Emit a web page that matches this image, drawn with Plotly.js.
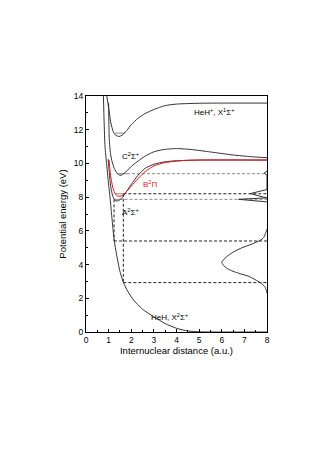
<!DOCTYPE html>
<html>
<head>
<meta charset="utf-8">
<script src="https://cdn.plot.ly/plotly-3.0.1.min.js"></script>
<style>
  html, body { margin: 0; padding: 0; background: #fff; }
  #myPlot { width: 332px; height: 470px; }
</style>
</head>
<body>
<div id="myPlot"></div>
<script>
// HeH ground state X2Sigma+ (repulsive)
const xGround = [0.77, 0.80, 0.84, 0.91, 0.98, 1.06, 1.13, 1.20, 1.25, 1.35, 1.50, 1.65, 1.85, 2.10, 2.50, 3.00, 3.50, 4.00, 4.50, 5.00, 5.50, 8.00];
const yGround = [14.0, 12.5, 11.0, 10.0, 9.0, 8.0, 7.0, 6.0, 5.4, 4.6, 3.6, 2.95, 2.4, 1.9, 1.35, 0.9, 0.5, 0.22, 0.06, 0.01, 0.0, 0.0];

// A2Sigma+
const xA = [0.98, 1.02, 1.06, 1.12, 1.20, 1.28, 1.36, 1.45, 1.60, 1.80, 2.00, 2.30, 2.60, 3.00, 3.50, 4.00, 5.00, 8.00];
const yA = [10.25, 9.6, 9.0, 8.4, 8.0, 7.82, 7.77, 7.80, 7.97, 8.35, 8.75, 9.3, 9.7, 9.95, 10.1, 10.16, 10.2, 10.2];

// B2Pi (red)
const xB = [1.02, 1.06, 1.12, 1.20, 1.30, 1.40, 1.50, 1.60, 1.80, 2.00, 2.30, 2.60, 3.00, 3.50, 4.30, 5.00, 8.00];
const yB = [10.2, 9.6, 9.0, 8.5, 8.18, 8.07, 8.05, 8.10, 8.35, 8.65, 9.1, 9.5, 9.85, 10.05, 10.17, 10.2, 10.2];

// C2Sigma+
const xC = [1.00, 1.01, 1.03, 1.08, 1.14, 1.25, 1.38, 1.50, 1.60, 1.80, 2.00, 2.24, 2.60, 2.98, 3.40, 4.00, 4.70, 5.50, 6.50, 7.30, 8.00];
const yC = [13.58, 12.5, 11.4, 10.6, 10.18, 9.7, 9.4, 9.29, 9.33, 9.55, 9.82, 10.08, 10.42, 10.68, 10.82, 10.88, 10.82, 10.68, 10.5, 10.4, 10.34];

// HeH+ X1Sigma+
const xIon = [0.92, 1.00, 1.10, 1.20, 1.30, 1.46, 1.60, 1.80, 2.00, 2.30, 2.60, 3.00, 3.50, 4.00, 5.00, 6.00, 8.00];
const yIon = [14.0, 13.3, 12.4, 11.9, 11.68, 11.6, 11.68, 11.95, 12.3, 12.68, 12.95, 13.2, 13.43, 13.52, 13.57, 13.58, 13.58];

// vibrational levels inside the wells
const levelY  = [11.8, 9.39, 8.2, 7.87];
const levelX0 = [1.28, 1.36, 1.30, 1.25];
const levelX1 = [1.73, 1.81, 1.65, 1.70];

// dashed transition guides
const dashY     = [9.39, 8.2, 7.87, 5.4, 2.93];
const dashX0    = [1.81, 1.65, 1.70, 1.24, 1.65];
const dashColor = ["#888", "#222", "#888", "#222", "#222"];
const vertX      = [1.24, 1.65];
const vertTop    = [7.87, 8.2];
const vertBottom = [5.4, 2.93];

// spectra drawn against the right axis
const xBand = [8.00, 7.97, 7.90, 7.70, 7.20, 6.81, 6.50, 6.20, 6.00, 6.20, 6.52, 6.90, 7.30, 7.70, 7.85, 7.95, 8.00];
const yBand = [2.30, 2.47, 2.70, 2.93, 3.30, 3.46, 3.60, 3.80, 4.12, 4.45, 4.75, 5.00, 5.20, 5.44, 5.60, 5.90, 6.10];
const xLines = [8.00, 6.74, 8.00, 7.85, 7.26, 7.85, 8.00, 8.00, 7.88, 8.00];
const yLines = [7.72, 7.87, 7.96, 8.00, 8.21, 8.40, 8.45, 9.30, 9.43, 9.55];

const labels = [
    { text: "HeH<sup>+</sup>, X<sup>1</sup>Σ<sup>+</sup>", x: 5.66, y: 13.05, color: "#000" },
    { text: "C<sup>2</sup>Σ<sup>+</sup>", x: 1.97, y: 10.42, color: "#000" },
    { text: "B<sup>2</sup>Π", x: 2.83, y: 8.76, color: "#e8141c" },
    { text: "A<sup>2</sup>Σ<sup>+</sup>", x: 1.95, y: 7.12, color: "#000" },
    { text: "HeH, X<sup>2</sup>Σ<sup>+</sup>", x: 3.7, y: 0.87, color: "#000" }
];

const curve = "#333";
const data = [];

function addLine(x, y, color, dash, shape) {
    data.push({
        x: x, y: y, mode: "lines", type: "scatter",
        line: { color: color, width: 1, dash: dash || "solid", shape: shape || "spline", smoothing: 0.6 },
        hoverinfo: "skip", showlegend: false
    });
}

for (let i = 0; i < dashY.length; i++) {
    addLine([dashX0[i], 8], [dashY[i], dashY[i]], dashColor[i], "3px,2px", "linear");
}
for (let i = 0; i < vertX.length; i++) {
    addLine([vertX[i], vertX[i]], [vertTop[i], vertBottom[i]], "#222", "3px,2px", "linear");
}
for (let i = 0; i < levelY.length; i++) {
    addLine([levelX0[i], levelX1[i]], [levelY[i], levelY[i]], "#888", "solid", "linear");
}

addLine(xGround, yGround, curve);
addLine(xA, yA, curve);
addLine(xC, yC, curve);
addLine(xIon, yIon, curve);
addLine(xB, yB, "#e8141c");
addLine(xBand, yBand, curve);
addLine(xLines, yLines, curve, "solid", "linear");

const layout = {
    width: 332, height: 470,
    margin: { l: 86, r: 65, t: 96, b: 138 },
    paper_bgcolor: "#fff", plot_bgcolor: "#fff",
    font: { family: "Liberation Sans, Arial, sans-serif", size: 8, color: "#000" },
    xaxis: {
        range: [0, 8], dtick: 1, showgrid: false, zeroline: false,
        showline: true, linecolor: "#000", linewidth: 1, mirror: true,
        ticks: "inside", ticklen: 3, tickcolor: "#000",
        minor: { dtick: 0.5, ticks: "inside", ticklen: 2, tickcolor: "#000" },
        tickfont: { size: 8.5 },
        title: { text: "Internuclear distance (a.u.)", font: { size: 9.5 }, standoff: 0 }
    },
    yaxis: {
        range: [0, 14], dtick: 2, showgrid: false, zeroline: false,
        showline: true, linecolor: "#000", linewidth: 1, mirror: true,
        ticks: "inside", ticklen: 3, tickcolor: "#000",
        minor: { dtick: 1, ticks: "inside", ticklen: 2, tickcolor: "#000" },
        tickfont: { size: 8.5 },
        title: { text: "Potential energy (eV)", font: { size: 9.5 }, standoff: 5 }
    },
    annotations: labels.map(l => ({
        text: l.text, x: l.x, y: l.y, xref: "x", yref: "y",
        showarrow: false, font: { size: 8, color: l.color }
    }))
};

Plotly.newPlot("myPlot", data, layout, { displayModeBar: false, staticPlot: true });
</script>
</body>
</html>
